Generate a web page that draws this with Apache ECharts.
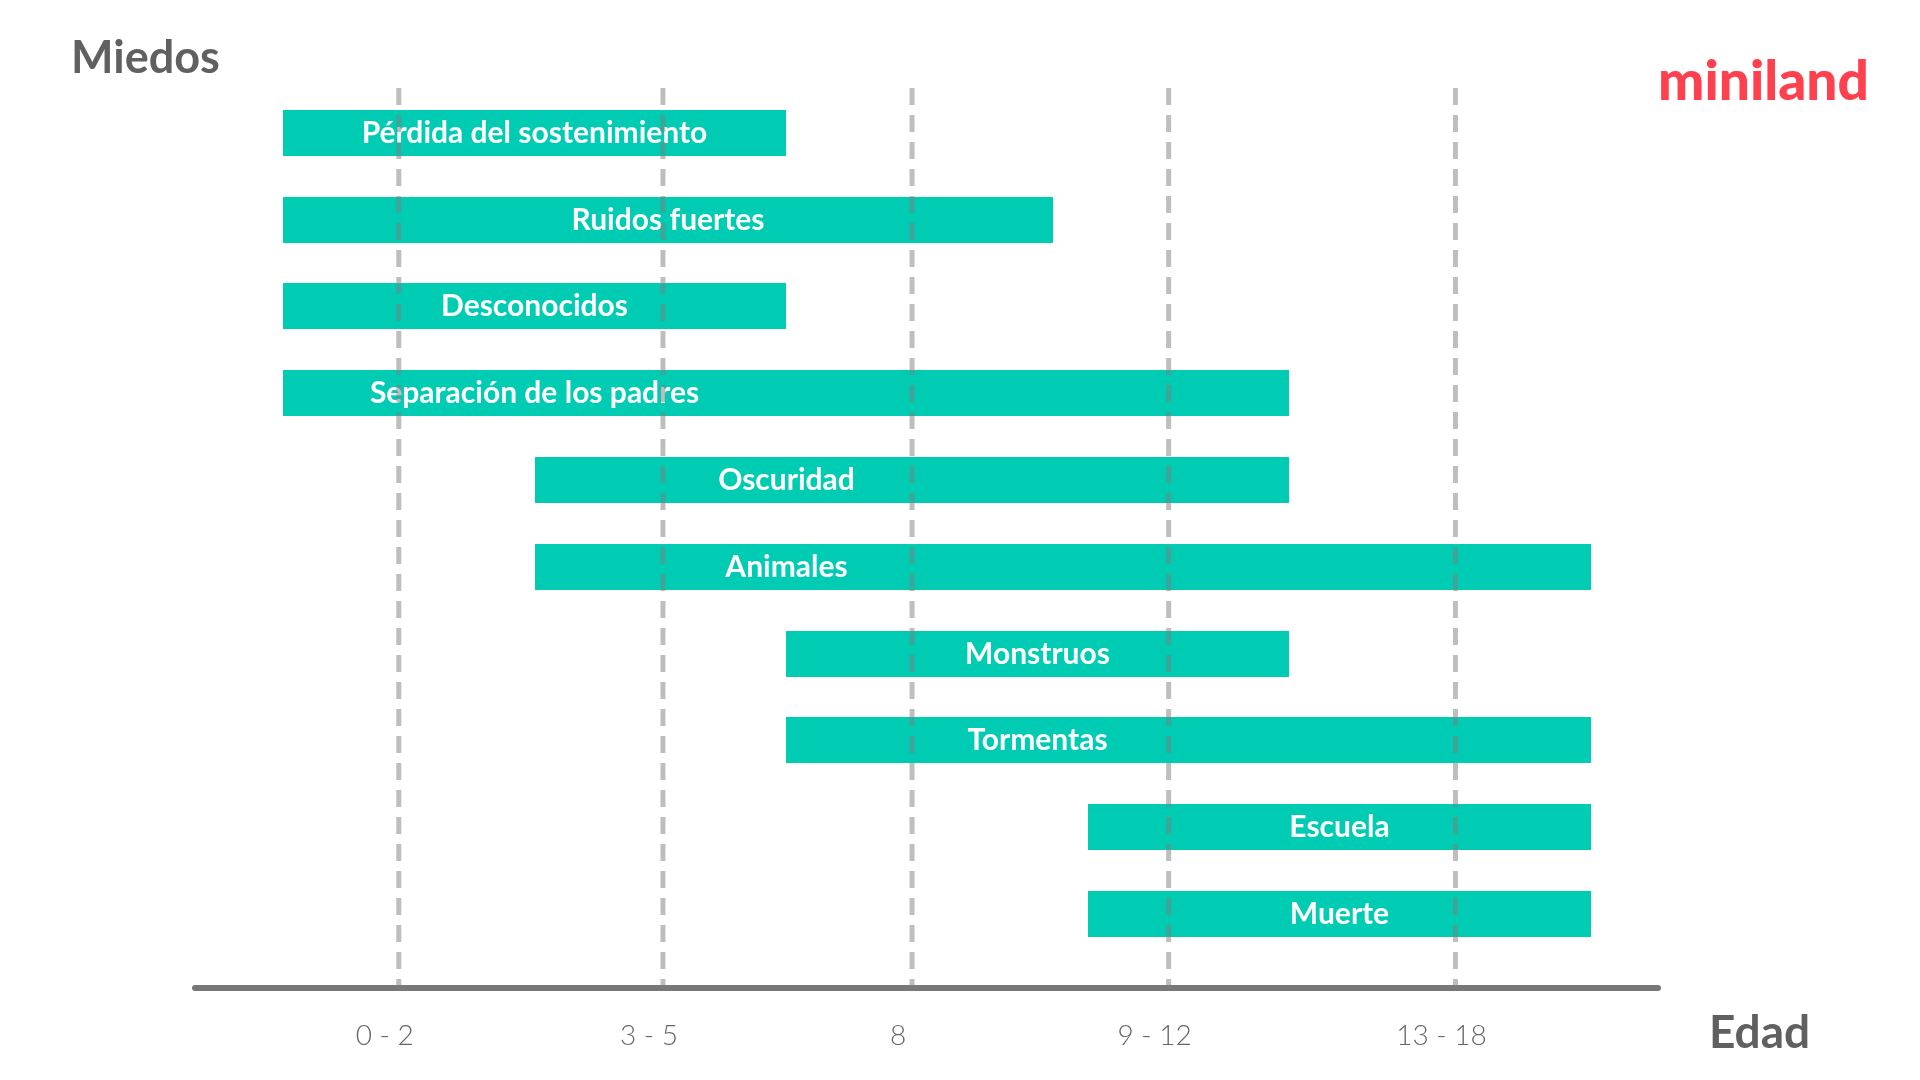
<!DOCTYPE html>
<html>
<head>
<meta charset="utf-8">
<script src="https://cdn.jsdelivr.net/npm/echarts@6/dist/echarts.min.js"></script>
<style>
html,body{margin:0;padding:0;background:#fff;}
#chart{width:1920px;height:1080px;}
</style>
</head>
<body>
<div id="chart"></div>
<script>
// Fears (rows, top to bottom)
const fears = ['Pérdida del sostenimiento', 'Ruidos fuertes', 'Desconocidos', 'Separación de los padres', 'Oscuridad', 'Animales', 'Monstruos', 'Tormentas', 'Escuela', 'Muerte'];
// Main (labelled) bar of each fear, in stage units along the age axis
const barStart = [0, 0, 0, 0, 1, 1, 2, 2, 3.2, 3.2];
const barEnd   = [2, 3.06, 2, 2, 3, 3, 4, 4, 5.2, 5.2];
// Extension bars (null = none)
const extStart = [null, null, null, 2, 3, 2, null, 3.2, null, null];
const extEnd   = [null, null, null, 4, 4, 5.2, null, 5.2, null, null];
// Age ticks (dashed lines) and their labels
const tickPos = [0.46, 1.51, 2.50, 3.52, 4.66];
const tickLabels = ['0 - 2', '3 - 5', '8', '9 - 12', '13 - 18'];

const TEAL = '#00CCB4';
const BAR_H = 46;

const mainData = fears.map((f, i) => ({ value: [i, barStart[i], barEnd[i]], name: f }));
const extData = [];
fears.forEach((f, i) => { if (extStart[i] !== null) extData.push({ value: [i, extStart[i], extEnd[i]], name: f }); });

function rectFor(api) {
  const row = api.value(0);
  const p0 = api.coord([api.value(1), row]);
  const p1 = api.coord([api.value(2), row]);
  const x0 = Math.round(p0[0]), x1 = Math.round(p1[0]);
  const y0 = Math.round(p0[1] - BAR_H / 2);
  return { x: x0, y: y0, width: x1 - x0, height: BAR_H };
}

const chart = echarts.init(document.getElementById('chart'));
chart.setOption({
  animation: false,
  backgroundColor: '#ffffff',
  grid: { left: 195, width: 1463, top: 88, height: 900, containLabel: false },
  xAxis: {
    type: 'value',
    min: -0.35,
    max: 5.465,
    axisLine: { show: true, onZero: false, lineStyle: { color: '#76787A', width: 6 } },
    axisTick: { show: false },
    splitLine: { show: false },
    axisLabel: {
      customValues: tickPos,
      formatter: v => { const k = tickPos.indexOf(v); return k >= 0 ? tickLabels[k] : ''; },
      color: '#666666',
      fontFamily: 'Lato',
      fontWeight: 300,
      fontSize: 28,
      margin: 34,
      padding: [0, 28, 0, 0]
    }
  },
  yAxis: {
    type: 'value',
    inverse: true,
    min: -0.517,
    max: 9.852,
    show: false
  },
  graphic: [
    { type: 'text', left: 71, top: 36, style: { text: 'Miedos', fill: '#606060', font: 'bold 45px Lato' } },
    { type: 'text', left: 1709, top: 1010, style: { text: 'Edad', fill: '#606060', font: 'bold 46px Lato' } },
    { type: 'text', left: 1658, top: 55, style: { text: 'miniland', fill: '#FF404F', font: '900 55px Lato' } }
  ],
  series: [
    {
      type: 'custom',
      name: 'ext',
      data: extData,
      encode: { x: [1, 2], y: 0 },
      z: 2,
      renderItem: (params, api) => ({ type: 'rect', shape: rectFor(api), style: { fill: TEAL } })
    },
    {
      type: 'custom',
      name: 'main',
      data: mainData,
      encode: { x: [1, 2], y: 0 },
      z: 3,
      renderItem: (params, api) => ({
        type: 'rect',
        shape: rectFor(api),
        style: { fill: TEAL },
        textContent: {
          style: { text: fears[api.value(0)], fill: '#ffffff', font: 'bold 30px Lato' }
        },
        textConfig: { position: 'inside' }
      })
    },
    {
      type: 'custom',
      name: 'ticks',
      data: tickPos.map(v => [v]),
      encode: { x: 0 },
      z: 5,
      silent: true,
      renderItem: (params, api) => {
        const x = api.coord([api.value(0), 0])[0];
        const cs = params.coordSys;
        return {
          type: 'line',
          shape: { x1: x, y1: cs.y, x2: x, y2: cs.y + cs.height },
          style: { stroke: 'rgba(125,125,125,0.5)', lineWidth: 5, lineDash: [17, 10] }
        };
      }
    }
  ]
});
</script>
</body>
</html>
